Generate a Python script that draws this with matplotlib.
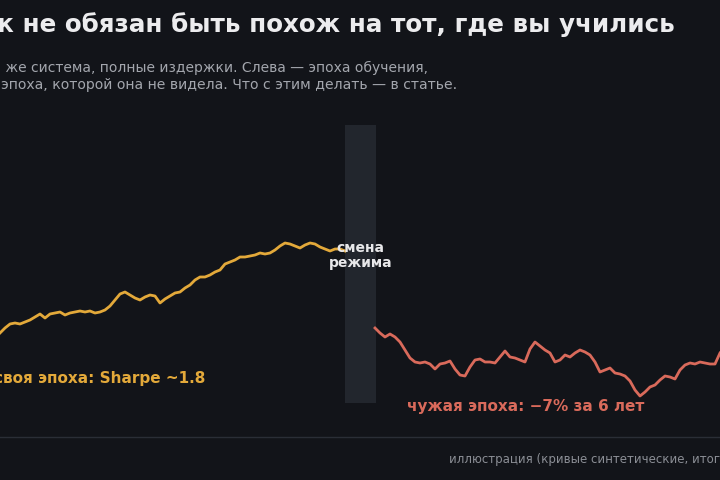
import numpy as np
import matplotlib
matplotlib.use("Agg")
import matplotlib.pyplot as plt

# equity index, one point per month
train_months = np.arange(0, 70)
train_equity = [
    100.0, 102.0, 103.6, 104.0, 103.6, 104.4, 105.2, 106.4, 107.6, 106.0,
    107.6, 108.0, 108.4, 107.2, 108.0, 108.4, 108.8, 108.4, 108.8, 108.0,
    108.4, 109.2, 110.8, 113.2, 115.6, 116.4, 115.2, 114.0, 113.2, 114.4,
    115.2, 114.8, 112.0, 113.6, 114.8, 116.0, 116.4, 118.0, 119.2, 121.2,
    122.4, 122.4, 123.2, 124.4, 125.2, 127.6, 128.4, 129.2, 130.4, 130.4,
    130.8, 131.2, 132.0, 131.6, 132.0, 133.2, 134.8, 136.0, 135.6, 134.8,
    134.0, 135.2, 136.0, 135.6, 134.4, 133.6, 132.8, 133.6, 133.6, 132.8,
]
live_months = np.arange(75, 145)
live_equity = [
    102.0, 100.0, 98.4, 99.6, 98.4, 96.4, 93.2, 90.0, 88.4, 88.0,
    88.4, 87.6, 85.6, 87.6, 88.0, 88.8, 85.6, 83.2, 82.8, 86.4,
    89.2, 89.6, 88.4, 88.4, 88.0, 90.4, 92.8, 90.4, 90.0, 89.2,
    88.4, 93.6, 96.4, 94.8, 93.2, 92.0, 88.4, 89.2, 91.2, 90.4,
    92.0, 93.2, 92.4, 91.2, 88.4, 84.4, 85.2, 86.0, 84.0, 83.6,
    82.8, 80.8, 77.2, 74.8, 76.4, 78.4, 79.2, 81.2, 82.8, 82.4,
    81.6, 85.2, 87.2, 88.0, 87.6, 88.4, 88.0, 87.6, 87.6, 92.0,
]
regime_start, regime_end = 69, 75.2

BG = "#121419"
GOLD = "#e3a93a"
RED = "#d96a5b"

fig = plt.figure(figsize=(7.2, 4.8), dpi=100, facecolor=BG)
ax = fig.add_axes([0, 0, 1, 1])
ax.set_facecolor(BG)
ax.set_xlim(0, 144)
ax.set_ylim(41.2, 233.2)
ax.axis("off")


def px(x, y):
    return x / 720, 1 - y / 480


ax.fill_between([regime_start, regime_end], 72, 183.2, color="#22262d", lw=0, zorder=1)
ax.axhline(58.4, color="#2a2e36", lw=1, zorder=1)

ax.plot(train_months, train_equity, color=GOLD, lw=2, zorder=3)
ax.plot(live_months, live_equity, color=RED, lw=2, zorder=3)

fig.text(*px(675, 32), "Рынок не обязан быть похож на тот, где вы учились",
         ha="right", va="baseline", fontsize=17.7, fontweight="bold", color="#ececee")
fig.text(*px(428, 72), "Та же система, полные издержки. Слева — эпоха обучения,",
         ha="right", va="baseline", fontsize=10, color="#a3a6ad")
fig.text(*px(457, 89), "справа — эпоха, которой она не видела. Что с этим делать — в статье.",
         ha="right", va="baseline", fontsize=10.1, color="#a3a6ad")

fig.text(*px(360.5, 267), "смена\nрежима", ha="center", va="baseline",
         fontsize=10, fontweight="bold", color="#e8e8ea", linespacing=1.1, zorder=5)
fig.text(*px(205, 383), "своя эпоха: Sharpe ~1.8", ha="right", va="baseline",
         fontsize=11, fontweight="bold", color=GOLD)
fig.text(*px(407, 411), "чужая эпоха: −7% за 6 лет", ha="left", va="baseline",
         fontsize=11, fontweight="bold", color=RED)
fig.text(*px(449, 463), "иллюстрация (кривые синтетические, итоговые цифры — из бэктеста)",
         ha="left", va="baseline", fontsize=8.5, color="#8b8e95")

fig.savefig("out.png", dpi=100, facecolor=BG)
